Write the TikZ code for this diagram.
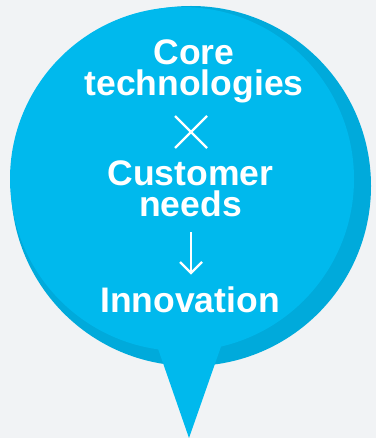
\documentclass[tikz,border=0pt]{standalone}
\usepackage{fontspec}
\setmainfont{Liberation Sans}
\begin{document}
\begin{tikzpicture}[x=1pt,y=-1pt,
  label/.style={text=white,font=\bfseries\fontsize{35.5}{31}\selectfont,align=center,anchor=base,inner sep=0pt},
  glyph/.style={draw=white,line width=2.2pt}]
\definecolor{bg}{HTML}{F1F3F5}
\definecolor{bubble}{HTML}{00B9ED}
\definecolor{bubbledark}{HTML}{00AADB}
% canvas
\fill[bg] (0,0) rectangle (376,438);
\useasboundingbox (0,0) rectangle (376,438);
% bubble: darker rim behind, lighter disc and pointer in front
\fill[bubbledark] (191,186) circle (180);
\fill[bubble] (182,179) circle (172);
\fill[bubble] (155,340) -- (224,338) -- (189,438) -- cycle;
% texts (base anchor = baseline of the last line)
\node[label] (tech) at (194,96) {Core\\technologies};
\node[label] (cust) at (190.5,216) {Customer\\needs};
\node[label] (innov) at (190,312) {Innovation};
% multiplication sign
\coordinate (x1) at (175,116); \coordinate (x2) at (207,148);
\coordinate (x3) at (207,116); \coordinate (x4) at (175,148);
\draw[glyph] (x1) -- (x2) (x3) -- (x4);
% downward arrow
\coordinate (a1) at (191,232); \coordinate (a2) at (191,273);
\coordinate (h1) at (180,262); \coordinate (h2) at (202,262);
\draw[glyph] (a1) -- (a2);
\draw[glyph,line join=miter] (h1) -- (a2) -- (h2);
\end{tikzpicture}
\end{document}
